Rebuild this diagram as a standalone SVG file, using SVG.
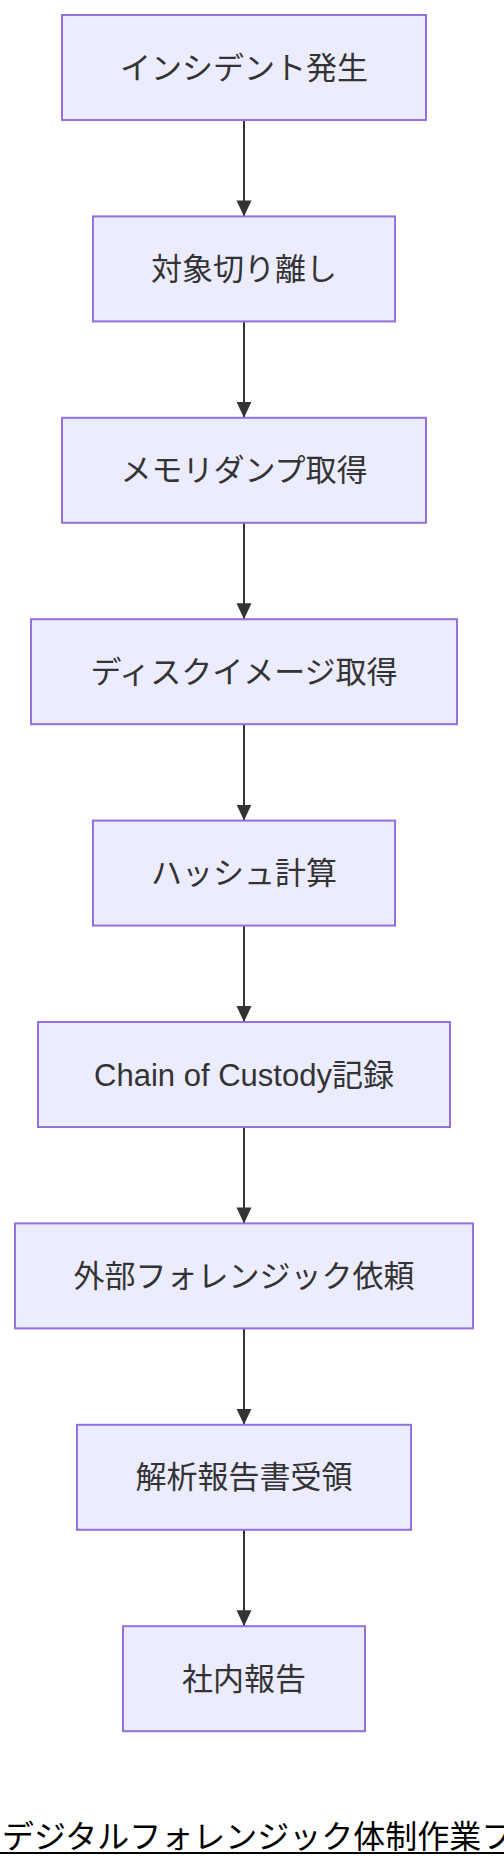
<svg xmlns="http://www.w3.org/2000/svg" width="504" height="1868" viewBox="0 0 504 1868">
<style>
.node rect{fill:#ECECFF;stroke:#9370DB;stroke-width:2}
.node text{font-family:"Liberation Sans","Noto Sans CJK JP",sans-serif;font-size:31px;fill:#333;text-anchor:middle}
.edge{stroke:#333;stroke-width:2;fill:none}
.title{font-family:"Noto Sans CJK JP",sans-serif;font-size:32px;fill:#000}
</style>
<defs>
<marker id="arrow" markerUnits="userSpaceOnUse" markerWidth="16" markerHeight="16" viewBox="0 0 16 15" refX="16" refY="7.5" orient="auto">
<path d="M0,0 L16,7.5 L0,15 z" fill="#333"/>
</marker>
</defs>
<rect width="504" height="1868" fill="#fff"/>
<g id="connectors">
<line class="edge" x1="244" y1="120" x2="244" y2="216.4" marker-end="url(#arrow)"/>
<line class="edge" x1="244" y1="321.4" x2="244" y2="417.8" marker-end="url(#arrow)"/>
<line class="edge" x1="244" y1="522.8" x2="244" y2="619.2" marker-end="url(#arrow)"/>
<line class="edge" x1="244" y1="724.2" x2="244" y2="820.6" marker-end="url(#arrow)"/>
<line class="edge" x1="244" y1="925.6" x2="244" y2="1022" marker-end="url(#arrow)"/>
<line class="edge" x1="244" y1="1127" x2="244" y2="1223.4" marker-end="url(#arrow)"/>
<line class="edge" x1="244" y1="1328.4" x2="244" y2="1424.8" marker-end="url(#arrow)"/>
<line class="edge" x1="244" y1="1529.8" x2="244" y2="1626.2" marker-end="url(#arrow)"/>
</g>
<g id="n1" class="node"><rect x="62" y="15" width="364" height="105"/><text x="244" y="78.5">インシデント発生</text></g>
<g id="n2" class="node"><rect x="93" y="216.4" width="302" height="105"/><text x="244" y="279.9">対象切り離し</text></g>
<g id="n3" class="node"><rect x="62" y="417.8" width="364" height="105"/><text x="244" y="481.3">メモリダンプ取得</text></g>
<g id="n4" class="node"><rect x="31" y="619.2" width="426" height="105"/><text x="244" y="682.7">ディスクイメージ取得</text></g>
<g id="n5" class="node"><rect x="93" y="820.6" width="302" height="105"/><text x="244" y="884.1">ハッシュ計算</text></g>
<g id="n6" class="node"><rect x="38" y="1022" width="412" height="105"/><text x="244" y="1085.5">Chain of Custody記録</text></g>
<g id="n7" class="node"><rect x="15" y="1223.4" width="458" height="105"/><text x="244" y="1286.9">外部フォレンジック依頼</text></g>
<g id="n8" class="node"><rect x="77" y="1424.8" width="334" height="105"/><text x="244" y="1488.3">解析報告書受領</text></g>
<g id="n9" class="node"><rect x="123" y="1626.2" width="242" height="105"/><text x="244" y="1689.7">社内報告</text></g>
<g id="title">
<text class="title" x="2" y="1848">デジタルフォレンジック体制作業フロー</text>
<line x1="0" y1="1853" x2="504" y2="1853" stroke="#000" stroke-width="2"/>
</g>
</svg>
